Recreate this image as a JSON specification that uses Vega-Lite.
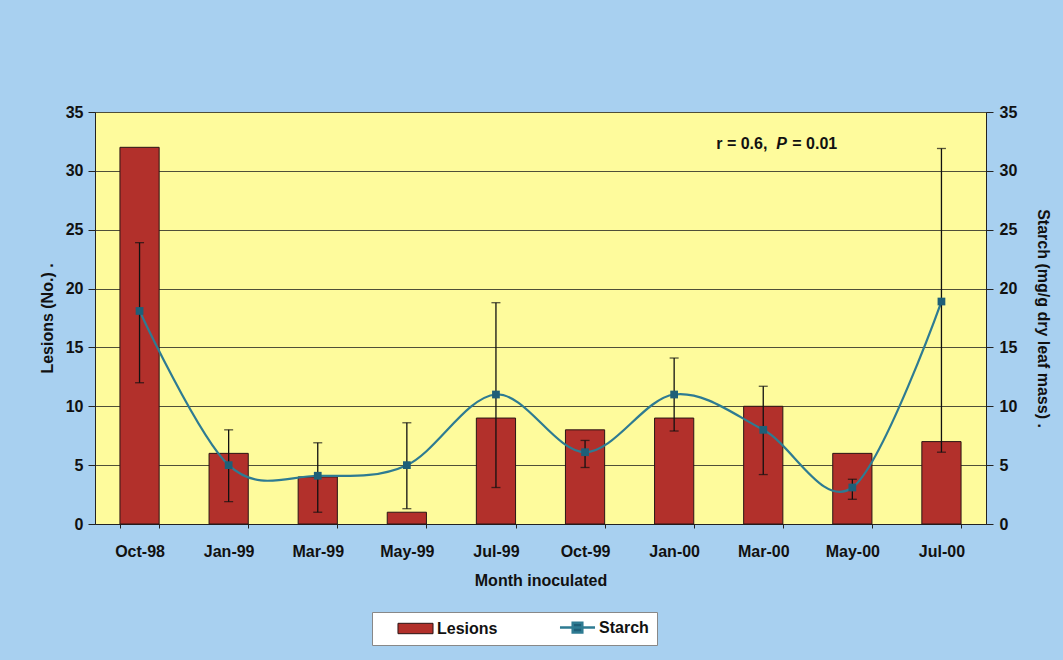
{
  "$schema": "https://vega.github.io/schema/vega-lite/v6.json",
  "autosize": {"type": "none"},
  "width": 891,
  "height": 412,
  "padding": {"left": 95, "top": 112, "right": 77, "bottom": 136},
  "background": "#a8d0f0",
  "data": {
    "values": [
      {"month": "Oct-98", "lesions": 32, "starch": 18.1, "lo": 12.0, "hi": 23.9},
      {"month": "Jan-99", "lesions": 6, "starch": 5.0, "lo": 1.9, "hi": 8.0},
      {"month": "Mar-99", "lesions": 4, "starch": 4.1, "lo": 1.0, "hi": 6.9},
      {"month": "May-99", "lesions": 1, "starch": 5.0, "lo": 1.3, "hi": 8.6},
      {"month": "Jul-99", "lesions": 9, "starch": 11.0, "lo": 3.1, "hi": 18.8},
      {"month": "Oct-99", "lesions": 8, "starch": 6.1, "lo": 4.8, "hi": 7.1},
      {"month": "Jan-00", "lesions": 9, "starch": 11.0, "lo": 7.9, "hi": 14.1},
      {"month": "Mar-00", "lesions": 10, "starch": 8.0, "lo": 4.2, "hi": 11.7},
      {"month": "May-00", "lesions": 6, "starch": 3.1, "lo": 2.1, "hi": 3.8},
      {"month": "Jul-00", "lesions": 7, "starch": 18.9, "lo": 6.1, "hi": 31.9}
    ]
  },
  "encoding": {
    "x": {
      "field": "month",
      "type": "nominal",
      "scale": {
        "domain": ["Oct-98", "Jan-99", "Mar-99", "May-99", "Jul-99", "Oct-99", "Jan-00", "Mar-00", "May-00", "Jul-00"],
        "paddingInner": 0.56,
        "paddingOuter": 0.28
      },
      "axis": {
        "title": "Month inoculated",
        "labelAngle": 0,
        "tickBand": "extent",
        "tickSize": 4,
        "labelPadding": 15,
        "titlePadding": 13
      }
    }
  },
  "layer": [
    {
      "layer": [
        {
          "mark": {"type": "bar"},
          "encoding": {
            "y": {
              "field": "lesions",
              "type": "quantitative",
              "scale": {"domain": [0, 35]},
              "axis": {
                "title": "Lesions (No.) .",
                "orient": "left",
                "values": [0, 5, 10, 15, 20, 25, 30, 35],
                "grid": true,
                "gridColor": "#4f4f38",
                "gridWidth": 1,
                "tickSize": 7,
                "labelPadding": 5,
                "titlePadding": 10
              }
            },
            "color": {
              "datum": "Lesions",
              "type": "nominal",
              "scale": {"domain": ["Lesions", "Starch"], "range": ["#b2302b", "#1e5f78"]},
              "legend": {
                "title": null,
                "orient": "none",
                "legendX": 277,
                "legendY": 500,
                "direction": "horizontal",
                "gridAlign": "all",
                "fillColor": "#ffffff",
                "strokeColor": "#888888",
                "padding": 7.5,
                "columnPadding": 44,
                "labelOffset": 41.5,
                "labelFont": "Liberation Sans",
                "labelFontSize": 16,
                "labelFontWeight": "bold",
                "labelColor": "#111111",
                "symbolSize": 256,
                "symbolOpacity": 1,
                "symbolType": {"expr": "datum.value === 'Lesions' ? 'M1.31,-0.65H5.69V0.65H1.31Z' : 'M1.31,0H5.69M2.9,-0.6H4.1V0.6H2.9Z'"},
                "symbolStrokeWidth": {"expr": "datum.value === 'Lesions' ? 1 : 2.5"}
              }
            },
            "stroke": {
              "datum": "Lesions",
              "type": "nominal",
              "scale": {"domain": ["Lesions", "Starch"], "range": ["#2a1515", "#2e7b92"]},
              "legend": {
                "title": null,
                "orient": "none",
                "legendX": 277,
                "legendY": 500,
                "direction": "horizontal",
                "gridAlign": "all",
                "fillColor": "#ffffff",
                "strokeColor": "#888888",
                "padding": 7.5,
                "columnPadding": 44,
                "labelOffset": 41.5,
                "labelFont": "Liberation Sans",
                "labelFontSize": 16,
                "labelFontWeight": "bold",
                "labelColor": "#111111",
                "symbolSize": 256,
                "symbolOpacity": 1,
                "symbolType": {"expr": "datum.value === 'Lesions' ? 'M1.31,-0.65H5.69V0.65H1.31Z' : 'M1.31,0H5.69M2.9,-0.6H4.1V0.6H2.9Z'"},
                "symbolStrokeWidth": {"expr": "datum.value === 'Lesions' ? 1 : 2.5"}
              }
            }
          }
        },
        {
          "data": {"values": [{"month": "Mar-00", "yv": 32.3, "label": "r = 0.6,"}]},
          "mark": {"type": "text", "align": "left", "baseline": "middle", "dx": -47, "font": "Liberation Sans", "fontSize": 16, "fontWeight": "bold", "color": "#111111"},
          "encoding": {
            "y": {"field": "yv", "type": "quantitative", "scale": {"domain": [0, 35]}, "title": "Lesions (No.) ."},
            "text": {"field": "label"}
          }
        },
        {
          "data": {"values": [{"month": "Mar-00", "yv": 32.3, "label": "P"}]},
          "mark": {"type": "text", "align": "left", "baseline": "middle", "dx": 13, "font": "Liberation Sans", "fontSize": 16, "fontWeight": "bold", "fontStyle": "italic", "color": "#111111"},
          "encoding": {
            "y": {"field": "yv", "type": "quantitative", "scale": {"domain": [0, 35]}, "title": "Lesions (No.) ."},
            "text": {"field": "label"}
          }
        },
        {
          "data": {"values": [{"month": "Mar-00", "yv": 32.3, "label": "= 0.01"}]},
          "mark": {"type": "text", "align": "left", "baseline": "middle", "dx": 29, "font": "Liberation Sans", "fontSize": 16, "fontWeight": "bold", "color": "#111111"},
          "encoding": {
            "y": {"field": "yv", "type": "quantitative", "scale": {"domain": [0, 35]}, "title": "Lesions (No.) ."},
            "text": {"field": "label"}
          }
        }
      ]
    },
    {
      "layer": [
        {
          "mark": {"type": "line", "interpolate": "cardinal", "color": "#2e7b92", "strokeWidth": 2.2},
          "encoding": {
            "y": {
              "field": "starch",
              "type": "quantitative",
              "scale": {"domain": [0, 35]},
              "axis": {"title": "Starch (mg/g dry leaf mass) .", "orient": "right", "values": [0, 5, 10, 15, 20, 25, 30, 35], "grid": false, "tickSize": 7, "labelPadding": 6, "titlePadding": 18}
            }
          }
        },
        {
          "mark": {"type": "rule", "color": "#111111", "strokeWidth": 1.3},
          "encoding": {
            "y": {
              "field": "lo",
              "type": "quantitative",
              "scale": {"domain": [0, 35]},
              "axis": {"title": "Starch (mg/g dry leaf mass) .", "orient": "right", "values": [0, 5, 10, 15, 20, 25, 30, 35], "grid": false, "tickSize": 7, "labelPadding": 6, "titlePadding": 18}
            },
            "y2": {"field": "hi"}
          }
        },
        {
          "mark": {"type": "tick", "color": "#111111", "size": 9, "thickness": 1.3, "orient": "horizontal"},
          "encoding": {
            "y": {
              "field": "lo",
              "type": "quantitative",
              "scale": {"domain": [0, 35]},
              "axis": {"title": "Starch (mg/g dry leaf mass) .", "orient": "right", "values": [0, 5, 10, 15, 20, 25, 30, 35], "grid": false, "tickSize": 7, "labelPadding": 6, "titlePadding": 18}
            }
          }
        },
        {
          "mark": {"type": "tick", "color": "#111111", "size": 9, "thickness": 1.3, "orient": "horizontal"},
          "encoding": {
            "y": {
              "field": "hi",
              "type": "quantitative",
              "scale": {"domain": [0, 35]},
              "axis": {"title": "Starch (mg/g dry leaf mass) .", "orient": "right", "values": [0, 5, 10, 15, 20, 25, 30, 35], "grid": false, "tickSize": 7, "labelPadding": 6, "titlePadding": 18}
            }
          }
        },
        {
          "mark": {"type": "point", "shape": "square", "filled": true, "size": 60, "color": "#1e5f78", "opacity": 1},
          "encoding": {
            "y": {
              "field": "starch",
              "type": "quantitative",
              "scale": {"domain": [0, 35]},
              "axis": {"title": "Starch (mg/g dry leaf mass) .", "orient": "right", "values": [0, 5, 10, 15, 20, 25, 30, 35], "grid": false, "tickSize": 7, "labelPadding": 6, "titlePadding": 18}
            }
          }
        }
      ]
    }
  ],
  "resolve": {"scale": {"y": "independent"}, "axis": {"y": "independent"}},
  "config": {
    "font": "Liberation Sans",
    "view": {"fill": "#fefb9c", "stroke": "#666666"},
    "axis": {
      "labelFont": "Liberation Sans",
      "labelFontSize": 16,
      "labelFontWeight": "bold",
      "labelColor": "#111111",
      "titleFont": "Liberation Sans",
      "titleFontSize": 16,
      "titleFontWeight": "bold",
      "titleColor": "#111111",
      "domainColor": "#222222",
      "tickColor": "#222222"
    }
  }
}
